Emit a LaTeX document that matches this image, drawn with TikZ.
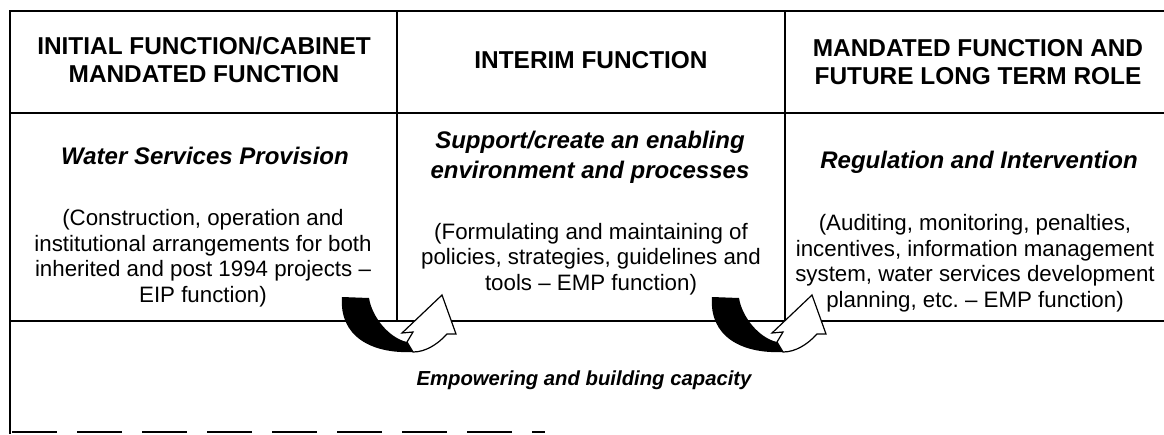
\documentclass[tikz,border=0pt]{standalone}
\usepackage{fontspec}
\setmainfont{Liberation Sans}
\usepackage{tikz}

\tikzset{
    rule/.style={line width=1.5pt},
    headtext/.style={align=center, inner sep=0pt, font=\fontsize{24.4}{28.5}\selectfont\bfseries},
    subtext/.style={align=center, inner sep=0pt, font=\fontsize{24}{30}\selectfont\bfseries\itshape},
    bodytext/.style={align=center, inner sep=0pt, font=\fontsize{22.3}{25.5}\selectfont},
    turnarrow/.pic={
        % black tail, bending down and round
        \fill[black] (-55,-24) -- (-28,-23) .. controls (-25,-4) and (-8,17) .. (10,21)
            -- (16,31) .. controls (-26,33) and (-58,15) .. (-55,-24) -- cycle;
        % hollow head
        \draw[line width=1.2pt, fill=white, line join=miter] (10,21) -- (16,11) -- (5,12) -- (45,-26)
            -- (59,13) -- (50,13) .. controls (40,24) and (28,31) .. (16,31) -- cycle;
    }
}

\begin{document}
\begin{tikzpicture}[x=1pt, y=-1pt]
    \useasboundingbox (0,0) rectangle (1164,434);
    % table frame
    \draw[rule] (1164,11) -- (10,11) -- (10,434);
    \draw[rule] (10,113) -- (1164,113);
    \draw[rule] (10,321) -- (1164,321);
    \draw[rule] (397,11) -- (397,321);
    \draw[rule] (785,11) -- (785,321);
    \draw[rule, dash pattern=on 45pt off 20pt] (12,432) -- (545,432);

    % headings
    \node[headtext] (hdInitial) at (204,60) {INITIAL FUNCTION/CABINET\\MANDATED FUNCTION};
    \node[headtext] (hdInterim) at (591,60) {INTERIM FUNCTION};
    \node[headtext] (hdMandated) at (978,62) {MANDATED FUNCTION AND\\FUTURE LONG TERM ROLE};

    % roles
    \node[subtext] (subWater) at (205,156) {Water Services Provision};
    \node[subtext] (subSupport) at (590,157) {Support/create an enabling\\environment and processes};
    \node[subtext] (subRegulation) at (979,162) {Regulation and Intervention};

    \node[bodytext] (txtConstruction) at (203,258) {(Construction, operation and\\institutional arrangements for both\\inherited and post 1994 projects --\\EIP function)};
    \node[bodytext] (txtFormulating) at (591,259) {(Formulating and maintaining of\\policies, strategies, guidelines and\\tools -- EMP function)};
    \node[bodytext] (txtAuditing) at (975,263) {(Auditing, monitoring, penalties,\\incentives, information management\\system, water services development\\planning, etc.\ -- EMP function)};

    \node[subtext, font=\fontsize{20.3}{25}\selectfont\bfseries\itshape] (txtEmpower) at (584,380) {Empowering and building capacity};

    % turning arrows
    \pic at (397,321) {turnarrow};
    \pic at (767,321) {turnarrow};
\end{tikzpicture}
\end{document}
